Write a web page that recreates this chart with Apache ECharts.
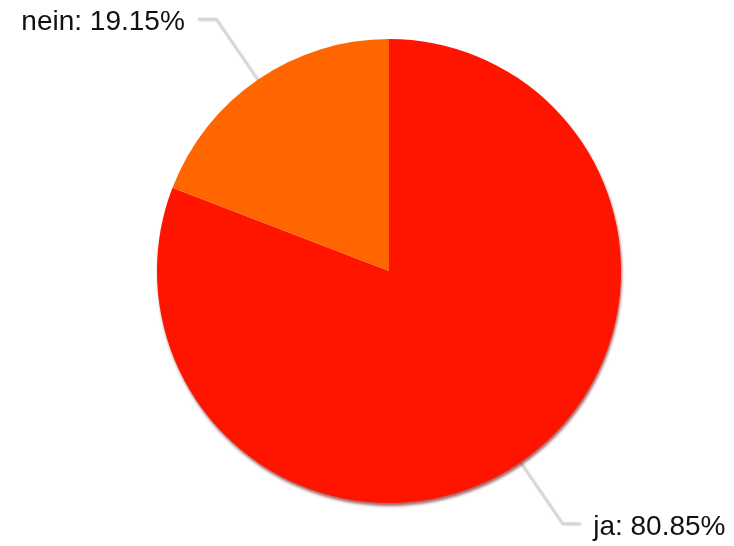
<!DOCTYPE html>
<html>
<head>
<meta charset="utf-8">
<script src="https://cdn.jsdelivr.net/npm/echarts@6/dist/echarts.min.js"></script>
<style>
  html, body { margin: 0; padding: 0; background: #fff; }
  #chart { width: 734px; height: 546px; }
</style>
</head>
<body>
<div id="chart"></div>
<script>
// Answer categories and their shares (percent)
const categories = ['ja', 'nein'];
const shares = [80.85, 19.15];
const colors = ['#ff1400', '#ff6600'];

const chart = echarts.init(document.getElementById('chart'), null, { renderer: 'canvas' });

// The large slice carries the drop shadow; the small one sits on top of it
const sliceShadow = {
  shadowBlur: 3,
  shadowOffsetX: 1,
  shadowOffsetY: 3,
  shadowColor: 'rgba(110,0,0,0.6)'
};

chart.setOption({
  animation: false,
  backgroundColor: '#ffffff',
  series: [{
    type: 'pie',
    center: [389, 271],
    radius: [0, 232],
    startAngle: 90,
    clockwise: true,
    data: categories.map((c, i) => ({
      name: c,
      value: shares[i],
      itemStyle: Object.assign({ color: colors[i] }, i === 0 ? sliceShadow : {})
    })),
    label: {
      show: true,
      formatter: p => '{t|' + p.name + ': ' + p.value.toFixed(2) + '%}',
      overflow: 'none',
      distanceToLabelLine: 13,
      rich: {
        t: {
          fontFamily: 'Liberation Sans, Arial, sans-serif',
          fontSize: 28,
          color: '#111111',
          lineHeight: 28,
          padding: [8, 0, 0, 0]
        }
      }
    },
    labelLine: {
      show: true,
      length: 74,
      length2: 18,
      lineStyle: {
        color: '#d6d6d6',
        width: 2,
        shadowBlur: 2,
        shadowOffsetX: 1,
        shadowOffsetY: 1,
        shadowColor: 'rgba(0,0,0,0.25)'
      }
    },
    emphasis: { disabled: true }
  }]
});
</script>
</body>
</html>
